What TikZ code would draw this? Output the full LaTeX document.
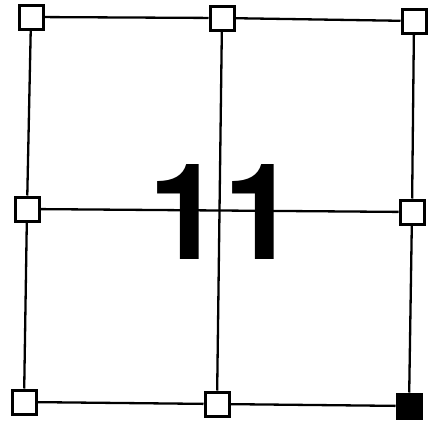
\documentclass[tikz,border=0pt]{standalone}
\usepackage{fontspec}
\setmainfont{TeX Gyre Heros}
\begin{document}
\begin{tikzpicture}[x=1pt, y=-1pt,
      cell/.style={rectangle,draw,line width=3pt,minimum size=24pt,inner sep=0pt,fill=white},
      full/.style={cell,fill=black},
      wire/.style={line width=2.3pt}
    ]
      \useasboundingbox (0,0) rectangle (433,423);
      % big label
      \node[font=\bfseries\fontsize{134}{134}\selectfont,inner sep=0pt] (num) at (223,212) {11};

      % top row
      \node[cell] (tl) at (31,17)  {};
      \node[cell] (tm) at (222,18) {};
      \node[cell] (tr) at (414,21) {};
      % middle row
      \node[cell] (ml) at (27,209)  {};
      \node[cell] (mr) at (412,212) {};
      % bottom row
      \node[cell] (bl) at (24,402)  {};
      \node[cell] (bm) at (217,404) {};
      \node[full] (br) at (409,406) {};

      \draw[wire] (tl) -- (tm); \draw[wire] (tm) -- (tr);
      \draw[wire] (bl) -- (bm); \draw[wire] (bm) -- (br);
      \draw[wire] (tl) -- (ml); \draw[wire] (ml) -- (bl);
      \draw[wire] (tr) -- (mr); \draw[wire] (mr) -- (br);
      \draw[wire] (tm) -- (bm); \draw[wire] (ml) -- (mr);
    \end{tikzpicture}
\end{document}
